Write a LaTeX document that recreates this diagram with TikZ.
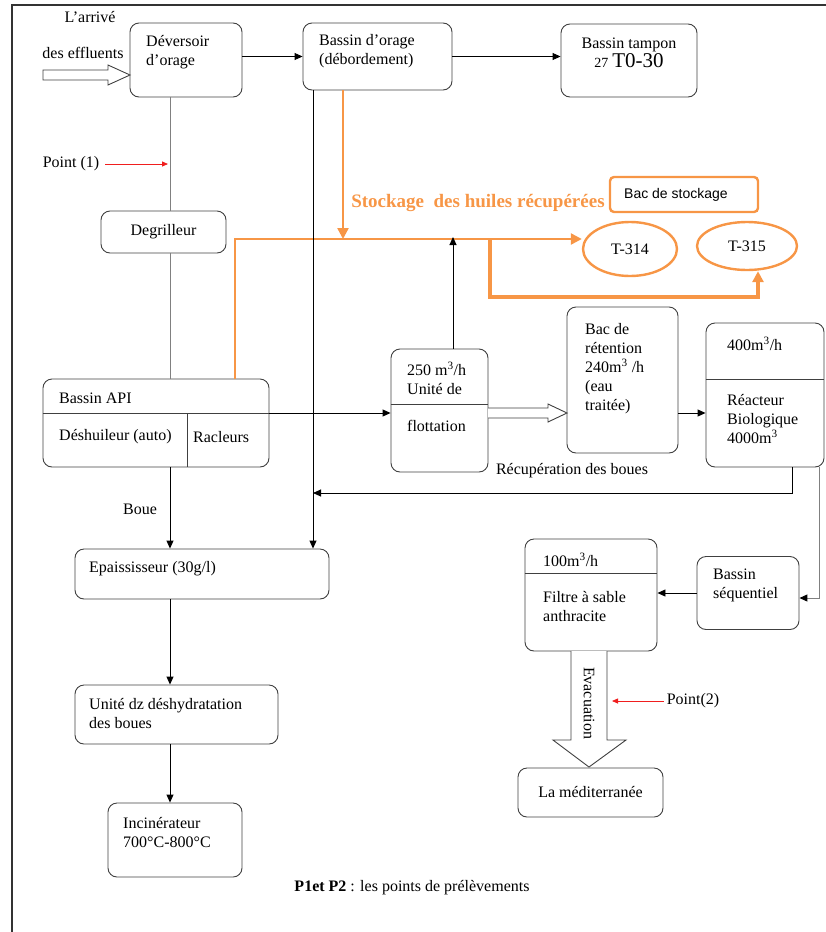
\documentclass[tikz,border=0pt]{standalone}
\usepackage{fontspec}
\setmainfont{Liberation Serif}
\newfontfamily\labelsans{Liberation Sans}
\usetikzlibrary{arrows.meta,shapes.geometric}

\definecolor{oilorange}{RGB}{247,150,70}
\definecolor{frameline}{RGB}{64,64,64}
\definecolor{pointred}{RGB}{240,30,30}

\newcommand{\boxfont}{\fontsize{16}{19}\selectfont}

\begin{document}
\begin{tikzpicture}[x=1pt,y=-1pt,
  box/.style={draw=frameline, line width=0.9pt, rounded corners=9pt, inner sep=0pt, font=\boxfont},
  txt/.style={font=\boxfont, inner sep=0pt, align=left, anchor=west},
  flow/.style={-{Triangle[length=8pt,width=7pt]}, line width=0.9pt},
  trunk line/.style={draw=black!50, line width=1pt},
  oil/.style={draw=oilorange, line width=2.4pt},
  oilhead/.style={-{Triangle[length=11pt,width=11pt]}},
  hollow/.style={draw=frameline, line width=0.9pt, fill=white},
  point/.style={draw=pointred, -{Triangle[length=6pt,width=5pt]}, line width=0.8pt}
]

\useasboundingbox (0,0) rectangle (826,932);

% cadre
\draw [black!80, line width=1.3pt] (12,932) -- (12,5) -- (826,5);

\coordinate (trunk) at (170,0);
\coordinate (bypass) at (313,0);
\coordinate (oildrop) at (343,0);
\coordinate (upline) at (453,0);
\coordinate (apimid) at (0,413);
\coordinate (oilL) at (235,239);
\coordinate (oilfork) at (490,239);
\coordinate (oilR) at (758,297);
\coordinate (ret) at (792,493);
\coordinate (side) at (819,598);
\coordinate (evacside) at (612,0);

% boxes
\node [box, minimum width=112, minimum height=74] (dev) at (186,60) {};
\node [box, minimum width=149, minimum height=67] (orage) at (377.5,56.5) {};
\node [box, minimum width=136, minimum height=73] (tampon) at (629,60.5) {};
\node [box, minimum width=125, minimum height=42] (degr) at (163.5,232) {Degrilleur};
\node [box, minimum width=226, minimum height=88] (api) at (156,423) {};
\node [box, minimum width=97, minimum height=123] (flot) at (439.5,410.5) {};
\node [box, minimum width=111, minimum height=146] (bac) at (622.5,380) {};
\node [box, minimum width=118, minimum height=144] (reac) at (765,395) {};
\node [box, minimum width=132, minimum height=112] (filtre) at (591,595) {};
\node [box, minimum width=102, minimum height=73] (seq) at (748,593) {};
\node [box, minimum width=145, minimum height=49] (med) at (590.5,792.5) {La méditerranée};
\node [box, minimum width=254, minimum height=50] (epai) at (202,574) {};
\node [box, minimum width=203, minimum height=59] (deshy) at (176.5,714.5) {};
\node [box, minimum width=134, minimum height=74] (incin) at (175,840) {};

% stockage
\node [draw=oilorange, line width=2.4pt, rounded corners=4pt, minimum width=148, minimum height=35, inner sep=0] (stock) at (684,194.5) {};
\node [ellipse, draw=oilorange, line width=2.4pt, minimum width=94, minimum height=54, inner sep=0, font=\boxfont] (t314) at (630,249) {T-314};
\node [ellipse, draw=oilorange, line width=2.4pt, minimum width=100, minimum height=48, inner sep=0, font=\boxfont] (t315) at (747,246) {T-315};

% dividers
\draw [frameline, line width=0.9pt] (api.west |- apimid) -- (api.east |- apimid);
\draw [frameline, line width=0.9pt] (187,413) -- (api.south -| 187,0);
\draw [frameline, line width=0.9pt] (flot.west |- 0,404) -- (flot.east |- 0,404);
\draw [frameline, line width=0.9pt] (reac.west |- 0,379) -- (reac.east |- 0,379);
\draw [frameline, line width=0.9pt] (filtre.west |- 0,573) -- (filtre.east |- 0,573);

% texts
\node [txt] (devtxt) at (146,52.5) {Déversoir\\d’orage};
\node [txt] (oragetxt) at (319,51) {Bassin d’orage\\(débordement)};
\node [txt, anchor=center, align=center] (tampontxt) at (629,53) {Bassin tampon\\{\fontsize{14}{15}\selectfont 27} {\fontsize{21}{22}\selectfont T0-30}};
\node [txt] (apitxt) at (59,398) {Bassin API};
\node [txt] (deshuil) at (59,437) {Déshuileur (auto)};
\node [txt] (racl) at (193,437) {Racleurs};
\node [txt] (flottxt) at (407,378.5) {250 m\textsuperscript{3}/h\\Unité de};
\node [txt] (flottxtb) at (407,426) {flottation};
\node [txt] (bactxt) at (585,369) {Bac de\\rétention\\240m\textsuperscript{3} /h\\(eau\\traitée)};
\node [txt] (reactxt) at (727,344) {400m\textsuperscript{3}/h};
\node [txt] (reactxtb) at (727,419) {Réacteur\\Biologique\\4000m\textsuperscript{3}};
\node [txt] (filtretxt) at (543,560) {100m\textsuperscript{3}/h};
\node [txt] (filtretxtb) at (543,607) {Filtre à sable\\anthracite};
\node [txt] (seqtxt) at (713,585) {Bassin\\séquentiel};
\node [txt] (epaitxt) at (89,569) {Epaississeur (30g/l)};
\node [txt] (deshytxt) at (89,714) {Unité dz déshydratation\\des boues};
\node [txt] (incintxt) at (123,832.5) {Incinérateur\\700°C-800°C};
\node [font=\labelsans\fontsize{14}{16}\selectfont, inner sep=0, anchor=west] (stocktxt) at (624,195) {Bac de stockage};
\node [font=\fontsize{19}{22}\selectfont\bfseries, text=oilorange, inner sep=0] (huiles) at (478,203) {Stockage\ \ des huiles récupérées};

\node [txt, anchor=center] (arrive) at (90,17) {L’arrivé};
\node [txt, anchor=center] (effl) at (83,53) {des effluents};
\node [txt, anchor=center] (pt1) at (71,164) {Point (1)};
\node [txt, anchor=center] (boue) at (140,509) {Boue};
\node [txt, anchor=center] (recup) at (572,471) {Récupération des boues};
\node [txt, anchor=center] (pt2) at (693,701) {Point(2)};
\node [font=\fontsize{16}{18}\selectfont, inner sep=0] (caption) at (412,888) {\textbf{P1et P2} : les points de prélèvements};

% hollow arrows
\draw [hollow] (43,70) -- (108,70) -- (108,65) -- (130,75) -- (108,85) -- (108,80) -- (43,80) -- cycle;
\draw [hollow] (488,408) -- (548,408) -- (548,404) -- (567,413) -- (548,422) -- (548,418) -- (488,418);
\draw [hollow] (571,651) -- (571,740) -- (553,740) -- (589,767) -- (626,740) -- (607,740) -- (607,651);
\node [txt, anchor=center, rotate=-90] (evac) at (589,703) {Evacuation};

% connectors
\draw [flow] (orage.west -| dev.east) -- (orage.west);
\draw [flow] (orage.east) -- (orage.east -| tampon.west);
\draw [trunk line] (dev.south -| trunk) -- (degr.north -| trunk);
\draw [trunk line] (degr.south -| trunk) -- (api.north -| trunk);
\draw [point] ([xshift=6]pt1.east) -- ([xshift=-2]pt1.east -| trunk);

\draw [oil, oilhead] (api.north -| oilL) -- (oilL) -- (oilL -| t314.west);
\draw [oil, oilhead] (orage.south -| oildrop) -- (oildrop |- oilL);
\draw [oil, line width=4pt, oilhead] (oilfork) |- (oilR) -- (oilR |- t315.south);
\draw [flow] (flot.north -| upline) -- ([yshift=2]upline |- oilL);

\draw [flow] (orage.south -| bypass) -- (epai.north -| bypass);
\draw [flow] (api.south -| trunk) -- (epai.north -| trunk);
\draw [flow] (epai.south -| trunk) -- (deshy.north -| trunk);
\draw [flow] (deshy.south -| trunk) -- (incin.north -| trunk);
\draw [flow] (api.east |- apimid) -- (flot.west |- apimid);
\draw [flow] (bac.east |- apimid) -- (reac.west |- apimid);
\draw [flow] (reac.south -| ret) -- (ret) -- (ret -| bypass);
\draw [trunk line, -{Triangle[length=8pt,width=7pt,black]}] (reac.south -| side) -- (side) -- (side -| seq.east);
\draw [flow] (seq.west) -- (seq.west -| filtre.east);
\draw [point] ([xshift=-3]pt2.west) -- (pt2.west -| evacside);

\end{tikzpicture}
\end{document}
